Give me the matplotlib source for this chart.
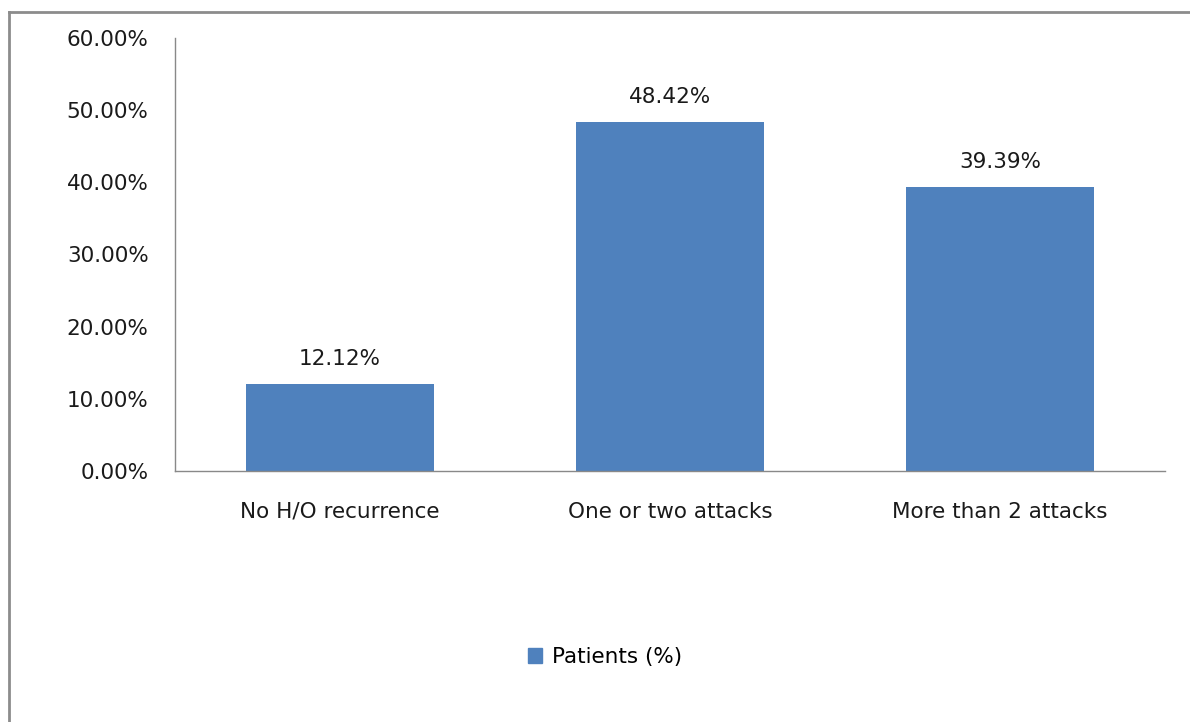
import matplotlib.pyplot as plt
from matplotlib.lines import Line2D
from matplotlib.patches import Patch

# Data
categories = ["No H/O recurrence", "One or two attacks", "More than 2 attacks"]
patients = [12.12, 48.42, 39.39]
yticks = [0, 10, 20, 30, 40, 50, 60]

bar_color = "#4f81bd"
axis_color = "#898989"
text_color = "#1a1a1a"
fs = 15.5

fig = plt.figure(figsize=(11.9, 7.22), dpi=100)
ax = fig.add_axes([175 / 1190, 1 - 471 / 722, 990 / 1190, 433 / 722])

x = range(len(categories))
ax.bar(x, patients, width=0.57, color=bar_color, zorder=2)

for xi, v in zip(x, patients):
    ax.text(xi, v + 2.0, f"{v:.2f}%", ha="center", va="bottom", fontsize=fs, color=text_color)

ax.set_xlim(-0.5, 2.5)
ax.set_ylim(0, 60)
ax.set_yticks(yticks)
ax.set_yticklabels([f"{t:.2f}%" for t in yticks], fontsize=fs, color=text_color)
ax.set_xticks(list(x))
ax.set_xticklabels(categories, fontsize=fs, color=text_color)
ax.tick_params(axis="y", length=0, pad=19)
ax.tick_params(axis="x", length=0, pad=22)

for side in ["top", "right"]:
    ax.spines[side].set_visible(False)
for side in ["left", "bottom"]:
    ax.spines[side].set_color(axis_color)
    ax.spines[side].set_linewidth(1.0)

# Legend
handle = Patch(facecolor=bar_color, edgecolor=bar_color)
fig.legend([handle], ["Patients (%)"], loc="center", bbox_to_anchor=(605 / 1190, 1 - 657 / 722),
           frameon=False, fontsize=fs, handlelength=0.65, handleheight=0.65, handletextpad=0.45)

# Outer chart frame (left and top edges)
fig.add_artist(Line2D([9 / 1190, 9 / 1190], [0, 1 - 12 / 722], transform=fig.transFigure,
                      color="#8c8c8c", linewidth=2))
fig.add_artist(Line2D([9 / 1190, 1], [1 - 12 / 722, 1 - 12 / 722], transform=fig.transFigure,
                      color="#8c8c8c", linewidth=2))

fig.savefig("out.png", dpi=100)
